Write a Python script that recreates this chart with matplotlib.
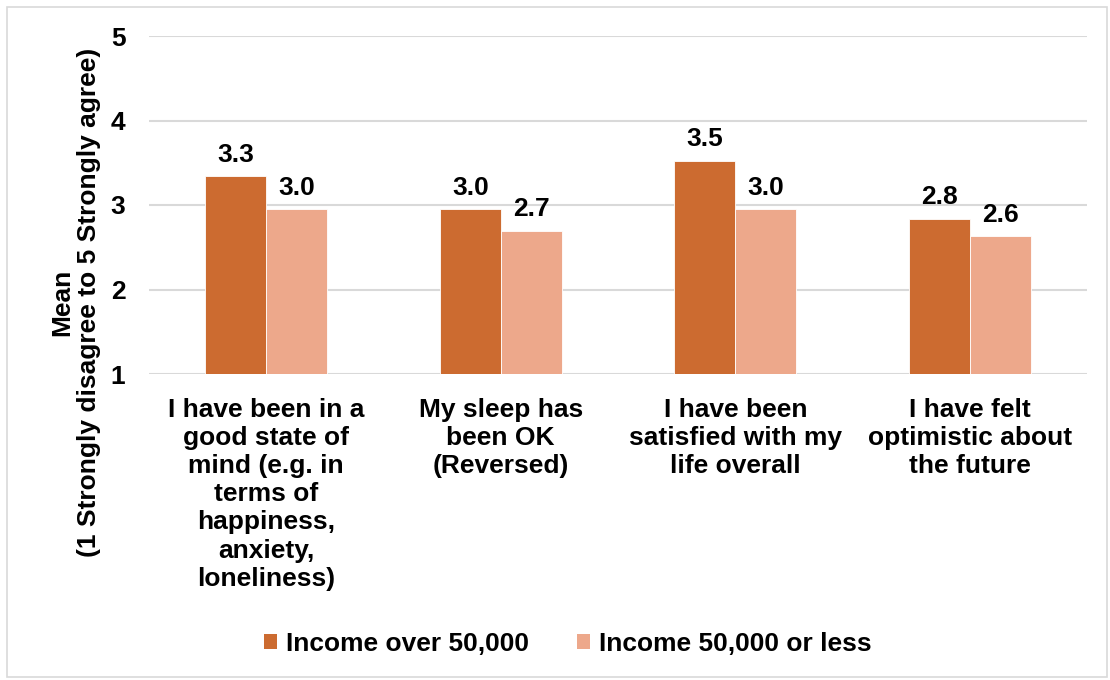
import matplotlib
matplotlib.use("Agg")
import matplotlib.pyplot as plt
from matplotlib.patches import Rectangle, Patch
import numpy as np

categories = [
    "I have been in a\ngood state of\nmind (e.g. in\nterms of\nhappiness,\nanxiety,\nloneliness)",
    "My sleep has\nbeen OK\n(Reversed)",
    "I have been\nsatisfied with my\nlife overall",
    "I have felt\noptimistic about\nthe future",
]
series_names = ["Income over 50,000", "Income 50,000 or less"]
income_over = [3.34, 2.95, 3.52, 2.84]
income_under = [2.95, 2.69, 2.95, 2.63]
yticks = [1, 2, 3, 4, 5]

c_dark = "#CC6B30"
c_light = "#EDA88B"

plt.rcParams['font.family'] = ['Liberation Sans', 'DejaVu Sans']
plt.rcParams['font.weight'] = 'bold'
fs = 19

fig = plt.figure(figsize=(11.1, 6.8), dpi=100)
ax = fig.add_axes([149/1110, 1-374/680, (1087-149)/1110, (374-36)/680])

x = np.arange(len(categories))
w = 0.26
b1 = ax.bar(x - w/2, np.array(income_over) - 1, w, bottom=1, color=c_dark, edgecolor='white', linewidth=0.6, zorder=3)
b2 = ax.bar(x + w/2, np.array(income_under) - 1, w, bottom=1, color=c_light, edgecolor='white', linewidth=0.6, zorder=3)

for bars, vals in ((b1, income_over), (b2, income_under)):
    for r, v in zip(bars, vals):
        ax.annotate(f"{v:.1f}", (r.get_x() + r.get_width()/2, v), xytext=(0, 7),
                    textcoords='offset points', ha='center', va='bottom',
                    fontsize=fs, fontweight='bold')

ax.set_xlim(-0.5, len(categories) - 0.5)
ax.set_ylim(1, 5)
ax.set_yticks(yticks)
ax.set_yticklabels([str(t) for t in yticks], fontsize=fs, fontweight='bold')
ax.set_xticks(x)
ax.set_xticklabels(categories, fontsize=fs, fontweight='bold', linespacing=1.22, va='top')
ax.tick_params(axis='both', length=0)
ax.tick_params(axis='y', pad=17)
ax.tick_params(axis='x', pad=17)
ax.yaxis.grid(True, color='#D9D9D9', linewidth=1.5, zorder=0)
ax.set_axisbelow(True)
for s in ax.spines.values():
    s.set_visible(False)

fig.text(76/1110, 1-302/680, "Mean\n(1 Strongly disagree to 5 Strongly agree)", rotation=90,
         ha='center', va='center', fontsize=fs, fontweight='bold', linespacing=1.15)

handles = [Patch(facecolor=c_dark), Patch(facecolor=c_light)]
fig.legend(handles, series_names, loc='center', bbox_to_anchor=(568/1110, 1-644/680), ncol=2,
           frameon=False, handlelength=0.5, handleheight=0.5, handletextpad=0.35,
           columnspacing=1.8, prop={'weight': 'bold', 'size': fs})

fig.patches.append(Rectangle((7/1110, 3/680), 1100/1110, 670/680, transform=fig.transFigure,
                             fill=False, edgecolor='#D9D9D9', linewidth=1.2))

fig.savefig("out.png", dpi=100, facecolor='white')
